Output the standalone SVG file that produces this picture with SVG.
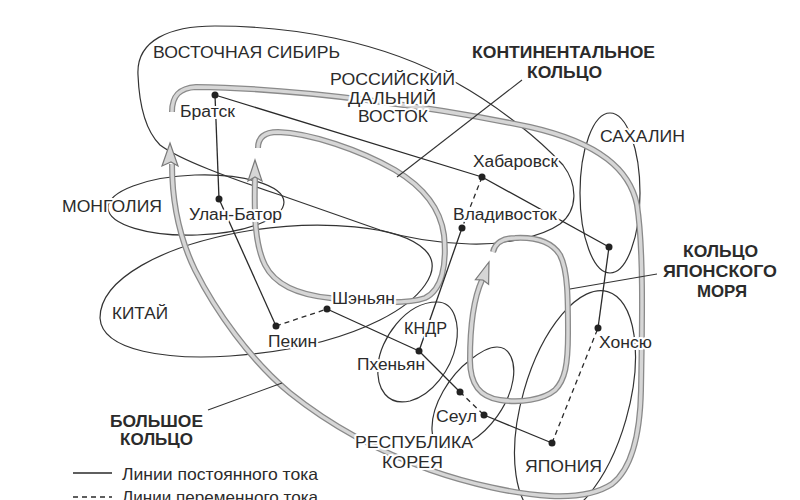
<svg xmlns="http://www.w3.org/2000/svg" width="800" height="500" viewBox="0 0 800 500">
<style>
.region{fill:none;stroke:#333;stroke-width:1.2}
.band-o{fill:none;stroke:#8a8a8a;stroke-width:6;stroke-linecap:butt}
.band-i{fill:none;stroke:#d6d6d6;stroke-width:3.4;stroke-linecap:butt}
.head{fill:#d6d6d6;stroke:#7a7a7a;stroke-width:1.2;stroke-linejoin:miter}
.dc{fill:none;stroke:#2a2a2a;stroke-width:1.3}
.ac{fill:none;stroke:#2a2a2a;stroke-width:1.3;stroke-dasharray:5 4}
.ptr{fill:none;stroke:#333;stroke-width:1.1}
.dot{fill:#222}
text{font-family:"Liberation Sans",Arial,sans-serif;fill:#2b2b2b;stroke:#fff;stroke-width:4;paint-order:stroke;stroke-linejoin:round}
.reg{font-size:17px}
.city{font-size:16px}
.bold{font-size:17px;font-weight:bold}
.leg{font-size:16.5px}
</style>
<rect width="800" height="500" fill="#fff"/>

<g id="regions">
<g id="east-siberia"><path class="region" d="M138,75 C136,40 170,26 215,26 C290,26 380,40 455,82 C500,107 540,140 563,165 C578,185 578,210 560,224 C540,238 500,245 470,244 C430,243 400,236 380,230 L280,195 C230,178 180,160 160,145 C143,128 139,100 138,75 Z"/></g>
<g id="mongolia"><ellipse class="region" cx="196" cy="205" rx="88" ry="30" transform="rotate(-2 196 205)"/></g>
<g id="china"><path class="region" d="M100,318 C100,280 160,245 253,230 C320,220 400,225 425,250 C445,270 420,300 380,320 C340,340 290,352 230,356 C170,360 102,352 100,318 Z"/></g>
<g id="sakhalin"><ellipse class="region" cx="610" cy="193" rx="30" ry="80"/></g>
<g id="dprk"><path class="region" d="M437,302 C455,302 460,325 456,345 C451,370 432,395 410,401 C388,406 376,390 378,365 C380,340 405,302 437,302 Z"/></g>
<g id="korea"><path class="region" d="M497,347 C510,347 516,362 513,380 C509,405 490,430 470,442 C452,452 433,450 432,430 C431,405 450,375 470,360 C480,352 488,347 497,347 Z"/></g>
<g id="japan"><ellipse class="region" cx="575" cy="405" rx="53" ry="118" transform="rotate(16 575 405)"/></g>
</g>

<g id="rings">
<g id="big-ring">
<path class="band-o" d="M172,112 C172,95 180,88 196,87 C300,88 440,108 530,127 C600,143 630,170 637,205 C644,250 642,330 641,390 C640,440 630,470 612,484 C595,495 570,497 550,496 C515,494 470,484 430,470 C380,452 330,425 290,393 C250,360 215,310 195,270 C178,235 172,200 172,164"/>
<path class="band-i" d="M172,112 C172,95 180,88 196,87 C300,88 440,108 530,127 C600,143 630,170 637,205 C644,250 642,330 641,390 C640,440 630,470 612,484 C595,495 570,497 550,496 C515,494 470,484 430,470 C380,452 330,425 290,393 C250,360 215,310 195,270 C178,235 172,200 172,164"/>
<polygon class="head" points="170,143 178,166 171,162 162,166"/>
</g>
<g id="continental-ring">
<path class="band-o" d="M258,148 C258,138 264,132 278,132 C310,133 360,150 395,170 C420,185 440,205 444,235 C447,265 442,290 425,298 C405,305 370,302 330,298 C300,295 275,285 265,265 C255,245 254,215 255,178"/>
<path class="band-i" d="M258,148 C258,138 264,132 278,132 C310,133 360,150 395,170 C420,185 440,205 444,235 C447,265 442,290 425,298 C405,305 370,302 330,298 C300,295 275,285 265,265 C255,245 254,215 255,178"/>
<polygon class="head" points="255,160 262,181 255,177 248,181"/>
</g>
<g id="japan-sea-ring">
<path class="band-o" d="M493,252 C495,243 503,238 515,238 C535,237 552,242 560,255 C568,270 568,300 568,333 C568,365 565,380 555,390 C543,400 520,403 500,400 C480,397 470,385 470,360 C470,330 472,302 482,280"/>
<path class="band-i" d="M493,252 C495,243 503,238 515,238 C535,237 552,242 560,255 C568,270 568,300 568,333 C568,365 565,380 555,390 C543,400 520,403 500,400 C480,397 470,385 470,360 C470,330 472,302 482,280"/>
<polygon class="head" points="489,262 488.6,284.3 483,280 475.4,279.7"/>
</g>
</g>

<g id="connectors">
<line class="dc" x1="215" y1="95" x2="219" y2="199"/>
<line class="dc" x1="215" y1="95" x2="482" y2="177"/>
<line class="dc" x1="482" y1="177" x2="609" y2="247"/>
<line class="ac" x1="482" y1="177" x2="462" y2="228"/>
<line class="dc" x1="219" y1="199" x2="276" y2="326"/>
<line class="ac" x1="276" y1="326" x2="327" y2="309"/>
<line class="dc" x1="327" y1="309" x2="419" y2="351"/>
<line class="dc" x1="462" y1="228" x2="419" y2="351"/>
<line class="dc" x1="419" y1="351" x2="460" y2="392"/>
<line class="ac" x1="460" y1="392" x2="484" y2="415"/>
<line class="dc" x1="484" y1="415" x2="552" y2="443"/>
<line class="ac" x1="552" y1="443" x2="598" y2="328"/>
<line class="dc" x1="609" y1="247" x2="598" y2="328"/>
<line class="ptr" x1="522" y1="80" x2="397" y2="177"/>
<line class="ptr" x1="657" y1="274" x2="570" y2="289"/>
<line class="ptr" x1="208" y1="410" x2="282" y2="383"/>
<line class="dc" x1="73" y1="473" x2="112" y2="473"/>
<line class="ac" x1="73" y1="497" x2="112" y2="497"/>
</g>

<g id="dots">
<circle class="dot" cx="215" cy="95" r="3.5"/>
<circle class="dot" cx="219" cy="199" r="3.5"/>
<circle class="dot" cx="276" cy="326" r="3.5"/>
<circle class="dot" cx="327" cy="309" r="3.5"/>
<circle class="dot" cx="419" cy="351" r="3.5"/>
<circle class="dot" cx="462" cy="228" r="3.5"/>
<circle class="dot" cx="482" cy="177" r="3.5"/>
<circle class="dot" cx="609" cy="247" r="3.5"/>
<circle class="dot" cx="598" cy="328" r="3.5"/>
<circle class="dot" cx="460" cy="392" r="3.5"/>
<circle class="dot" cx="484" cy="415" r="3.5"/>
<circle class="dot" cx="552" cy="443" r="3.5"/>
</g>

<g id="labels">
<text class="reg" x="153" y="58" textLength="187" lengthAdjust="spacingAndGlyphs">ВОСТОЧНАЯ СИБИРЬ</text>
<text class="reg" x="330" y="85" textLength="125" lengthAdjust="spacingAndGlyphs">РОССИЙСКИЙ</text>
<text class="reg" x="348" y="104" textLength="88" lengthAdjust="spacingAndGlyphs">ДАЛЬНИЙ</text>
<text class="reg" x="358" y="122" textLength="70" lengthAdjust="spacingAndGlyphs">ВОСТОК</text>
<text class="reg" x="600" y="142" textLength="85" lengthAdjust="spacingAndGlyphs">САХАЛИН</text>
<text class="reg" x="62" y="212" textLength="100" lengthAdjust="spacingAndGlyphs">МОНГОЛИЯ</text>
<text class="reg" x="112" y="319" textLength="56" lengthAdjust="spacingAndGlyphs">КИТАЙ</text>
<text class="reg" x="404" y="334" textLength="43" lengthAdjust="spacingAndGlyphs">КНДР</text>
<text class="reg" x="355" y="448" textLength="118" lengthAdjust="spacingAndGlyphs">РЕСПУБЛИКА</text>
<text class="reg" x="382" y="468" textLength="61" lengthAdjust="spacingAndGlyphs">КОРЕЯ</text>
<text class="reg" x="525" y="472" textLength="77" lengthAdjust="spacingAndGlyphs">ЯПОНИЯ</text>
<text class="city" x="180" y="117" textLength="55" lengthAdjust="spacingAndGlyphs">Братск</text>
<text class="city" x="189" y="220" textLength="93" lengthAdjust="spacingAndGlyphs">Улан-Батор</text>
<text class="city" x="268" y="347" textLength="49" lengthAdjust="spacingAndGlyphs">Пекин</text>
<text class="city" x="332" y="304" textLength="63" lengthAdjust="spacingAndGlyphs">Шэньян</text>
<text class="city" x="357" y="370" textLength="68" lengthAdjust="spacingAndGlyphs">Пхеньян</text>
<text class="city" x="436" y="422" textLength="41" lengthAdjust="spacingAndGlyphs">Сеул</text>
<text class="city" x="473" y="167" textLength="85" lengthAdjust="spacingAndGlyphs">Хабаровск</text>
<text class="city" x="453" y="220" textLength="104" lengthAdjust="spacingAndGlyphs">Владивосток</text>
<text class="city" x="599" y="348" textLength="53" lengthAdjust="spacingAndGlyphs">Хонсю</text>
<text class="bold" x="472" y="58" textLength="183" lengthAdjust="spacingAndGlyphs">КОНТИНЕНТАЛЬНОЕ</text>
<text class="bold" x="527" y="78" textLength="75" lengthAdjust="spacingAndGlyphs">КОЛЬЦО</text>
<text class="bold" x="683" y="257" textLength="75" lengthAdjust="spacingAndGlyphs">КОЛЬЦО</text>
<text class="bold" x="663" y="277" textLength="114" lengthAdjust="spacingAndGlyphs">ЯПОНСКОГО</text>
<text class="bold" x="697" y="297" textLength="50" lengthAdjust="spacingAndGlyphs">МОРЯ</text>
<text class="bold" x="110" y="427" textLength="93" lengthAdjust="spacingAndGlyphs">БОЛЬШОЕ</text>
<text class="bold" x="120" y="445" textLength="73" lengthAdjust="spacingAndGlyphs">КОЛЬЦО</text>
<text class="leg" x="122" y="480" textLength="196" lengthAdjust="spacingAndGlyphs">Линии постоянного тока</text>
<text class="leg" x="122" y="503" textLength="196" lengthAdjust="spacingAndGlyphs">Линии переменного тока</text>
</g>
</svg>
